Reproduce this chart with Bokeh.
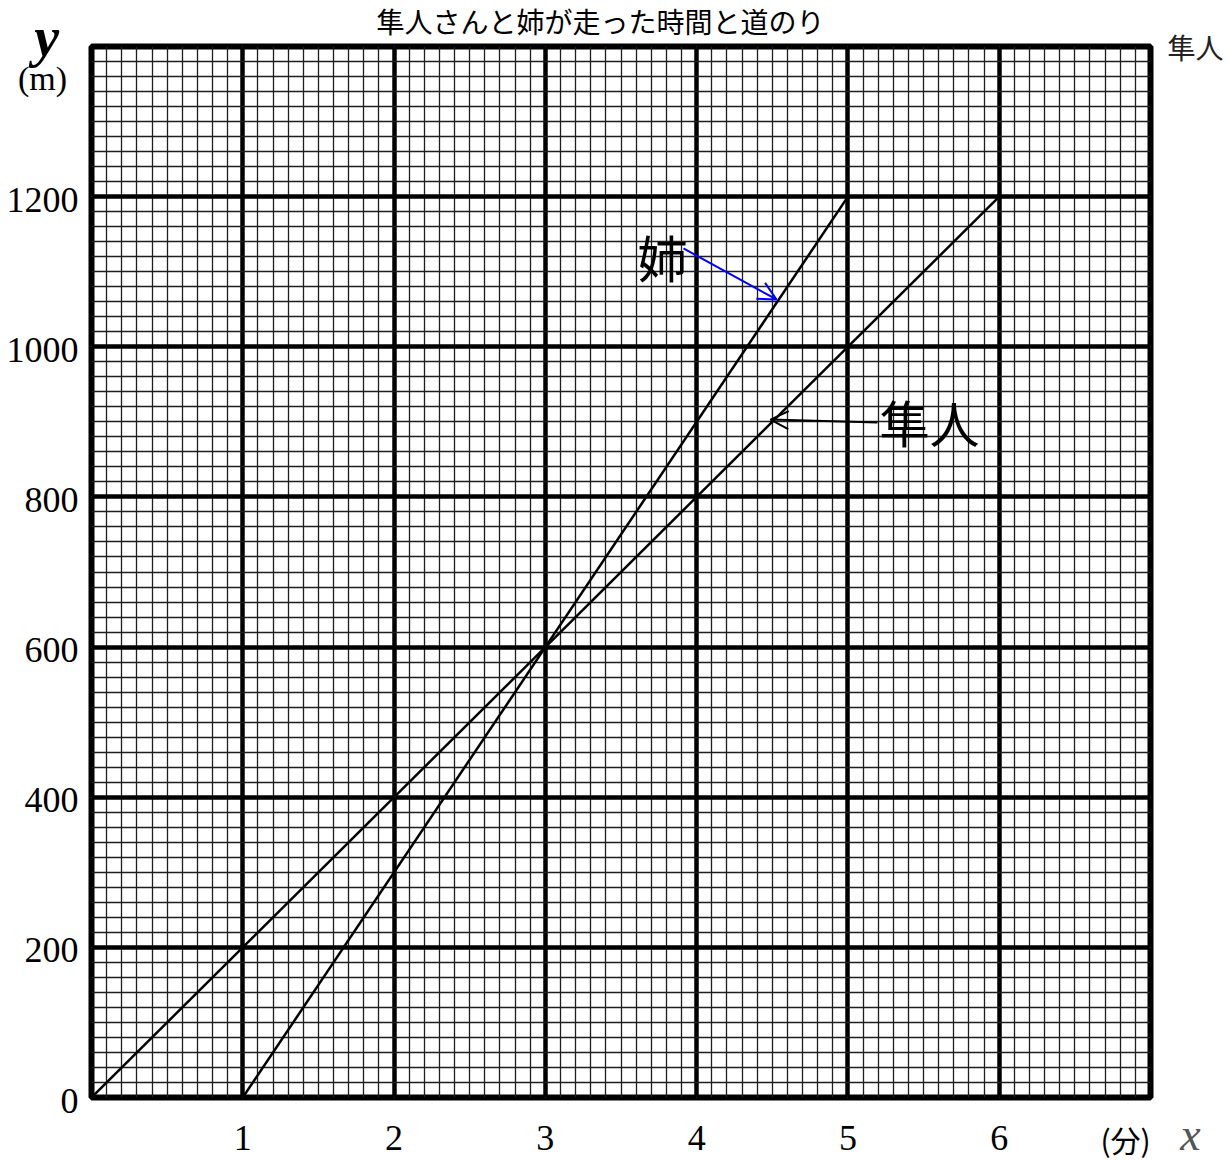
import numpy as np
from bokeh.plotting import figure
from bokeh.models import Range1d, Grid, FixedTicker, Arrow, OpenHead, ColumnDataSource
from bokeh.core.properties import value
from bokeh.embed import file_html
from bokeh.resources import INLINE

# ---- data ----
title_text = "隼人さんと姉が走った時間と道のり"
hayato_x = [0, 6]
hayato_y = [0, 1200]
ane_x = [1, 5]
ane_y = [0, 1200]
x_ticks = [1, 2, 3, 4, 5, 6]
x_tick_labels = ["1", "2", "3", "4", "5", "6"]
y_ticks = [0, 200, 400, 600, 800, 1000, 1200]
y_tick_labels = ["0", "200", "400", "600", "800", "1000", "1200"]

W, H = 1228, 1160
p = figure(width=W, height=H, output_backend="svg", toolbar_location=None,
           x_range=Range1d(0, 7), y_range=Range1d(0, 1400),
           x_axis_location=None, y_axis_location=None,
           min_border_left=91, min_border_right=78, min_border_top=46, min_border_bottom=63,
           background_fill_color="white", border_fill_color="white")
p.outline_line_color = "black"
p.outline_line_width = 6

major_x = list(range(0, 8))
minor_x = list(np.round(np.arange(0, 7.0001, 0.1), 2))
major_y = list(range(0, 1401, 200))
minor_y = list(range(0, 1401, 20))

for dim, majors, minors in ((0, major_x, minor_x), (1, major_y, minor_y)):
    g = Grid(dimension=dim, ticker=FixedTicker(ticks=majors, minor_ticks=minors))
    g.grid_line_color = "black"
    g.grid_line_width = 4.5
    g.minor_grid_line_color = "#1e1e1e"
    g.minor_grid_line_width = 1.3
    g.level = "underlay"
    p.add_layout(g)

p.line(hayato_x, hayato_y, line_color="black", line_width=2.5)
p.line(ane_x, ane_y, line_color="black", line_width=2.5)

# arrows
p.add_layout(Arrow(x_start=3.913, y_start=1131, x_end=4.528, y_end=1063,
                   line_color="blue", line_width=2,
                   end=OpenHead(size=18, line_color="blue", line_width=2)))
p.add_layout(Arrow(x_start=5.195, y_start=899, x_end=4.488, y_end=903,
                   line_color="black", line_width=2,
                   end=OpenHead(size=18, line_color="black", line_width=2)))

serif = value("Liberation Serif")

# tick labels
ysrc = ColumnDataSource(dict(x=[0] * len(y_ticks), y=y_ticks, t=y_tick_labels))
p.text(x="x", y="y", text="t", source=ysrc, x_offset=-13, y_offset=3,
       text_align="right", text_baseline="middle", text_font=serif,
       text_font_size="36px", text_color="black", level="overlay")
xsrc = ColumnDataSource(dict(x=x_ticks, y=[0] * len(x_ticks), t=x_tick_labels))
p.text(x="x", y="y", text="t", source=xsrc, y_offset=40,
       text_align="center", text_baseline="middle", text_font=serif,
       text_font_size="36px", text_color="black", level="overlay")

def lab(x, y, text, font, size, baseline="middle", style="normal", color="black"):
    p.text(x=[x], y=[y], text=[text], text_font=value(font), text_font_size=size,
           text_align="center", text_baseline=baseline, text_font_style=style,
           text_color=color, level="overlay")

lab(3.364, 1434.6, title_text, "Noto Sans CJK JP", "28px")
lab(7.297, 1398.7, "隼人", "Noto Sans CJK JP", "28px", color="#222222")
lab(-0.297, 1413.3, "y", "Liberation Serif", "56px", style="bold italic")
lab(-0.324, 1357, "(m)", "Liberation Serif", "34px")
lab(6.835, -55, "(分)", "Noto Sans CJK JP", "30px")
lab(7.264, -49, "x", "Liberation Serif", "46px", style="italic", color="#555555")
lab(3.774, 1120.3, "姉", "Noto Sans CJK JP", "50px")
lab(5.539, 900.5, "隼人", "Noto Sans CJK JP", "50px")

open("out.html", "w").write(file_html(p, INLINE))
